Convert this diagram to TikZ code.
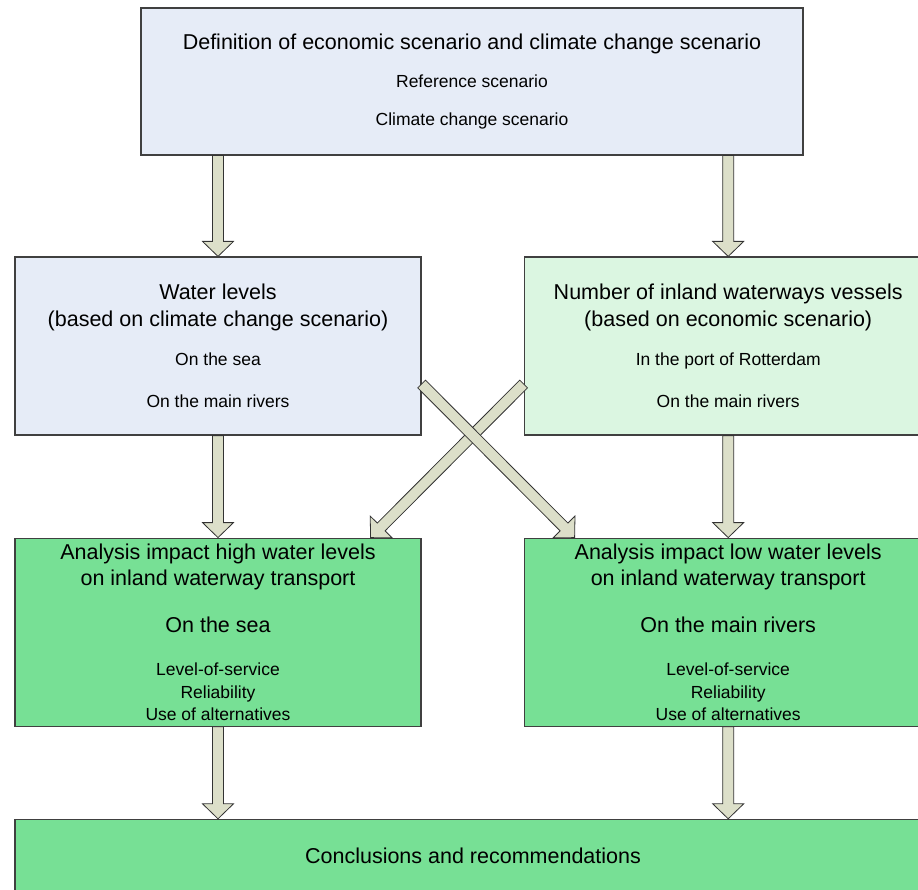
\documentclass[tikz,border=0pt]{standalone}
\usepackage{fontspec}
\setmainfont{Liberation Sans}
\usetikzlibrary{positioning,calc}

\definecolor{paleblue}{HTML}{E6ECF7}
\definecolor{palegreen}{HTML}{DBF6E1}
\definecolor{boxgreen}{HTML}{77E095}
\definecolor{arrowfill}{HTML}{DCDFC9}

\newcommand{\bigf}{\fontsize{21.5}{22}\selectfont}

\tikzset{
  box/.style={rectangle, draw=black!75, line width=1.2pt, inner sep=0pt,
              align=center, font=\fontsize{17.5}{22}\selectfont},
  bluebox/.style={box, fill=paleblue},
  lightbox/.style={box, fill=palegreen},
  greenbox/.style={box, fill=boxgreen},
  blockarr/.style={draw=black!80, line width=0.8pt, fill=arrowfill, line join=miter}
}

% fat arrow from #1 to #2
\newcommand{\blockarrow}[2]{%
  \path (#1) coordinate (ba-s) (#2) coordinate (ba-e);
  \path ($(ba-e)!15pt!(ba-s)$) coordinate (ba-h);
  \draw[blockarr] ($(ba-s)!5.5pt!90:(ba-e)$) -- ($(ba-h)!5.5pt!-90:(ba-s)$)
    -- ($(ba-h)!15.5pt!-90:(ba-s)$) -- (ba-e) -- ($(ba-h)!15.5pt!90:(ba-s)$)
    -- ($(ba-h)!5.5pt!90:(ba-s)$) -- ($(ba-s)!5.5pt!-90:(ba-e)$) -- cycle;}

\begin{document}
\begin{tikzpicture}[x=1pt,y=-1pt]
  \useasboundingbox (0,0) rectangle (918,890);
  \clip (0,0) rectangle (918,890);

  % scenarios
  \node[bluebox, minimum width=662pt, minimum height=147pt] (top) at (472,81.5)
    {{\bigf Definition of economic scenario and climate change scenario}\\[16.5pt]
     Reference scenario\\[16pt] Climate change scenario};

  % inputs
  \node[bluebox, minimum width=406pt, minimum height=178pt] (wl) at (218,346)
    {{\bigf Water levels}\\[5pt] {\bigf (based on climate change scenario)}\\[16.6pt]
     On the sea\\[20pt] On the main rivers};
  \node[lightbox, minimum width=408pt, minimum height=178pt] (nb) [right=102pt of wl]
    {{\bigf Number of inland waterways vessels}\\[5pt] {\bigf (based on economic scenario)}\\[16.6pt]
     In the port of Rotterdam\\[20pt] On the main rivers};

  % analyses
  \node[greenbox, minimum width=406pt, minimum height=188pt] (al) [below=102pt of wl]
    {{\bigf Analysis impact high water levels}\\[4pt] {\bigf on inland waterway transport}\\[25pt]
     {\bigf On the sea}\\[20.6pt] Level-of-service\\[1pt] Reliability\\ Use of alternatives};
  \node[greenbox, minimum width=408pt, minimum height=188pt] (ar) [below=102pt of nb]
    {{\bigf Analysis impact low water levels}\\[4pt] {\bigf on inland waterway transport}\\[25pt]
     {\bigf On the main rivers}\\[20.6pt] Level-of-service\\[1pt] Reliability\\ Use of alternatives};

  \node[greenbox, minimum width=916pt, minimum height=73pt] (conc)
    [below=92pt of al.south west, anchor=north west]
    {\bigf Conclusions and recommendations};

  % arrows
  \blockarrow{top.south -| wl.north}{wl.north}
  \blockarrow{top.south -| nb.north}{nb.north}
  \blockarrow{wl.south}{al.north}
  \blockarrow{nb.south}{ar.north}
  \blockarrow{[yshift=-38pt]nb.west}{[xshift=-51pt]al.north east}
  \blockarrow{[yshift=-38pt]wl.east}{[xshift=51pt]ar.north west}
  \blockarrow{al.south}{al.south |- conc.north}
  \blockarrow{ar.south}{ar.south |- conc.north}
\end{tikzpicture}
\end{document}
